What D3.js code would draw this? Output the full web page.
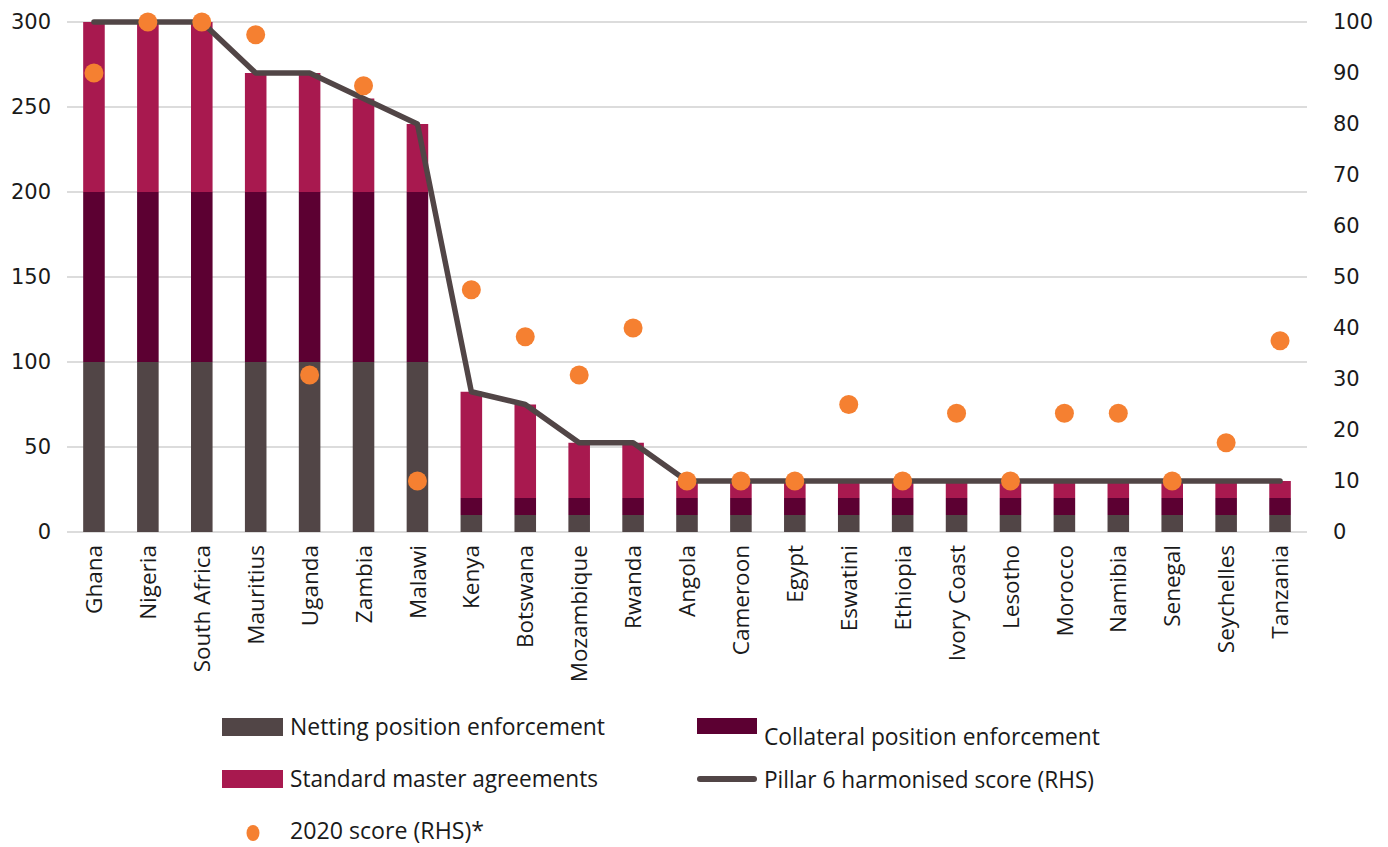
<!DOCTYPE html>
<html>
<head>
<meta charset="utf-8">
<script src="https://cdn.jsdelivr.net/npm/d3@7"></script>
<style>
  html, body { margin: 0; padding: 0; background: #fff; }
  svg { display: block; }
</style>
</head>
<body>
<svg id="chart" width="1388" height="847"></svg>
<script>
// Countries, in ranking order
const countries = ["Ghana", "Nigeria", "South Africa", "Mauritius", "Uganda", "Zambia", "Malawi",
  "Kenya", "Botswana", "Mozambique", "Rwanda", "Angola", "Cameroon", "Egypt", "Eswatini",
  "Ethiopia", "Ivory Coast", "Lesotho", "Morocco", "Namibia", "Senegal", "Seychelles", "Tanzania"];

// Stacked components (left axis)
const netting    = [100, 100, 100, 100, 100, 100, 100, 10, 10, 10, 10, 10, 10, 10, 10, 10, 10, 10, 10, 10, 10, 10, 10];
const collateral = [100, 100, 100, 100, 100, 100, 100, 10, 10, 10, 10, 10, 10, 10, 10, 10, 10, 10, 10, 10, 10, 10, 10];
const standard   = [100, 100, 100, 70, 70, 55, 40, 62.5, 55, 32.5, 32.5, 10, 10, 10, 10, 10, 10, 10, 10, 10, 10, 10, 10];

// Pillar 6 harmonised score (right axis)
const pillarScore = [100, 100, 100, 90, 90, 85, 80, 27.5, 25, 17.5, 17.5, 10, 10, 10, 10, 10, 10, 10, 10, 10, 10, 10, 10];

// 2020 score (right axis)
const score2020 = [90, 100, 100, 97.5, 30.8, 87.5, 10, 47.5, 38.3, 30.8, 40, 10, 10, 10, 25, 10, 23.3, 10, 23.3, 23.3, 10, 17.5, 37.5];

// Axis ticks
const leftTicks = [0, 50, 100, 150, 200, 250, 300];
const rightTicks = [0, 10, 20, 30, 40, 50, 60, 70, 80, 90, 100];

const seriesNames = ["Netting position enforcement", "Collateral position enforcement", "Standard master agreements"];
const colors = {
  netting: "#514546",
  collateral: "#5c0032",
  standard: "#a8194f",
  line: "#514546",
  dot: "#f58031",
  grid: "#dcdcdc",
  text: "#1a1a1a"
};

const svg = d3.select("#chart");
const plot = { left: 67, right: 1307, top: 22, bottom: 532 };

const x = d3.scaleBand().domain(countries).range([plot.left, plot.right])
  .paddingInner(0.6).paddingOuter(0.3);
const yL = d3.scaleLinear().domain([0, 300]).range([plot.bottom, plot.top]);
const yR = d3.scaleLinear().domain([0, 100]).range([plot.bottom, plot.top]);

// Gridlines
svg.append("g").selectAll("line").data(leftTicks).join("line")
  .attr("x1", plot.left).attr("x2", plot.right)
  .attr("y1", d => yL(d)).attr("y2", d => yL(d))
  .attr("stroke", colors.grid).attr("stroke-width", 2);

// Left axis labels
const leftAxis = svg.append("g").attr("transform", `translate(${plot.left},0)`)
  .call(d3.axisLeft(yL).tickValues(leftTicks).tickSize(0).tickPadding(16));
leftAxis.select(".domain").remove();
leftAxis.selectAll("text").attr("font-family", "DejaVu Sans").attr("font-size", 21).attr("fill", colors.text);

// Right axis labels
const rightAxis = svg.append("g").attr("transform", `translate(${plot.right},0)`)
  .call(d3.axisRight(yR).tickValues(rightTicks).tickSize(0).tickPadding(26));
rightAxis.select(".domain").remove();
rightAxis.selectAll("text").attr("font-family", "DejaVu Sans").attr("font-size", 21).attr("fill", colors.text);

// Stacked bars
const rows = countries.map((c, i) => ({ country: c, netting: netting[i], collateral: collateral[i], standard: standard[i] }));
const stack = d3.stack().keys(["netting", "collateral", "standard"]);
const layers = stack(rows);
svg.append("g").selectAll("g").data(layers).join("g")
  .attr("fill", d => colors[d.key])
  .selectAll("rect").data(d => d).join("rect")
  .attr("x", d => x(d.data.country))
  .attr("width", x.bandwidth())
  .attr("y", d => yL(d[1]))
  .attr("height", d => yL(d[0]) - yL(d[1]));

// Category labels
svg.append("g").selectAll("text").data(countries).join("text")
  .attr("transform", d => `translate(${x(d) + x.bandwidth() / 2},545) rotate(-90)`)
  .attr("dy", "0.36em")
  .attr("text-anchor", "end")
  .attr("font-family", "Open Sans")
  .attr("font-size", 22.5)
  .attr("font-weight", 500)
  .attr("fill", colors.text)
  .text(d => d);

// Pillar 6 harmonised score line
const line = d3.line()
  .x((d, i) => x(countries[i]) + x.bandwidth() / 2)
  .y(d => yR(d));
svg.append("path").datum(pillarScore)
  .attr("d", line)
  .attr("fill", "none")
  .attr("stroke", colors.line)
  .attr("stroke-width", 5.5)
  .attr("stroke-linecap", "round")
  .attr("stroke-linejoin", "round");

// 2020 score dots
svg.append("g").selectAll("circle").data(score2020).join("circle")
  .attr("cx", (d, i) => x(countries[i]) + x.bandwidth() / 2)
  .attr("cy", d => yR(d))
  .attr("r", 9.5)
  .attr("fill", colors.dot);

// Legend
const legend = svg.append("g")
  .attr("font-family", "Open Sans")
  .attr("font-size", 23.5)
  .attr("font-weight", 500)
  .attr("fill", colors.text);

function legendText(tx, ty, label, width) {
  legend.append("text").attr("x", tx).attr("y", ty)
    .attr("textLength", width).attr("lengthAdjust", "spacingAndGlyphs")
    .text(label);
}

legend.append("rect").attr("x", 222).attr("y", 718).attr("width", 61).attr("height", 18).attr("fill", colors.netting);
legendText(290, 735, seriesNames[0], 315);

legend.append("rect").attr("x", 697).attr("y", 718).attr("width", 60).attr("height", 16).attr("fill", colors.collateral);
legendText(764, 745, seriesNames[1], 336);

legend.append("rect").attr("x", 222).attr("y", 770).attr("width", 61).attr("height", 18).attr("fill", colors.standard);
legendText(290, 787, seriesNames[2], 308);

legend.append("line").attr("x1", 700).attr("x2", 754).attr("y1", 779).attr("y2", 779)
  .attr("stroke", colors.line).attr("stroke-width", 6).attr("stroke-linecap", "round");
legendText(764, 788, "Pillar 6 harmonised score (RHS)", 330);

legend.append("ellipse").attr("cx", 253).attr("cy", 833).attr("rx", 6.5).attr("ry", 8).attr("fill", colors.dot);
legendText(290, 839, "2020 score (RHS)*", 194);
</script>
</body>
</html>
